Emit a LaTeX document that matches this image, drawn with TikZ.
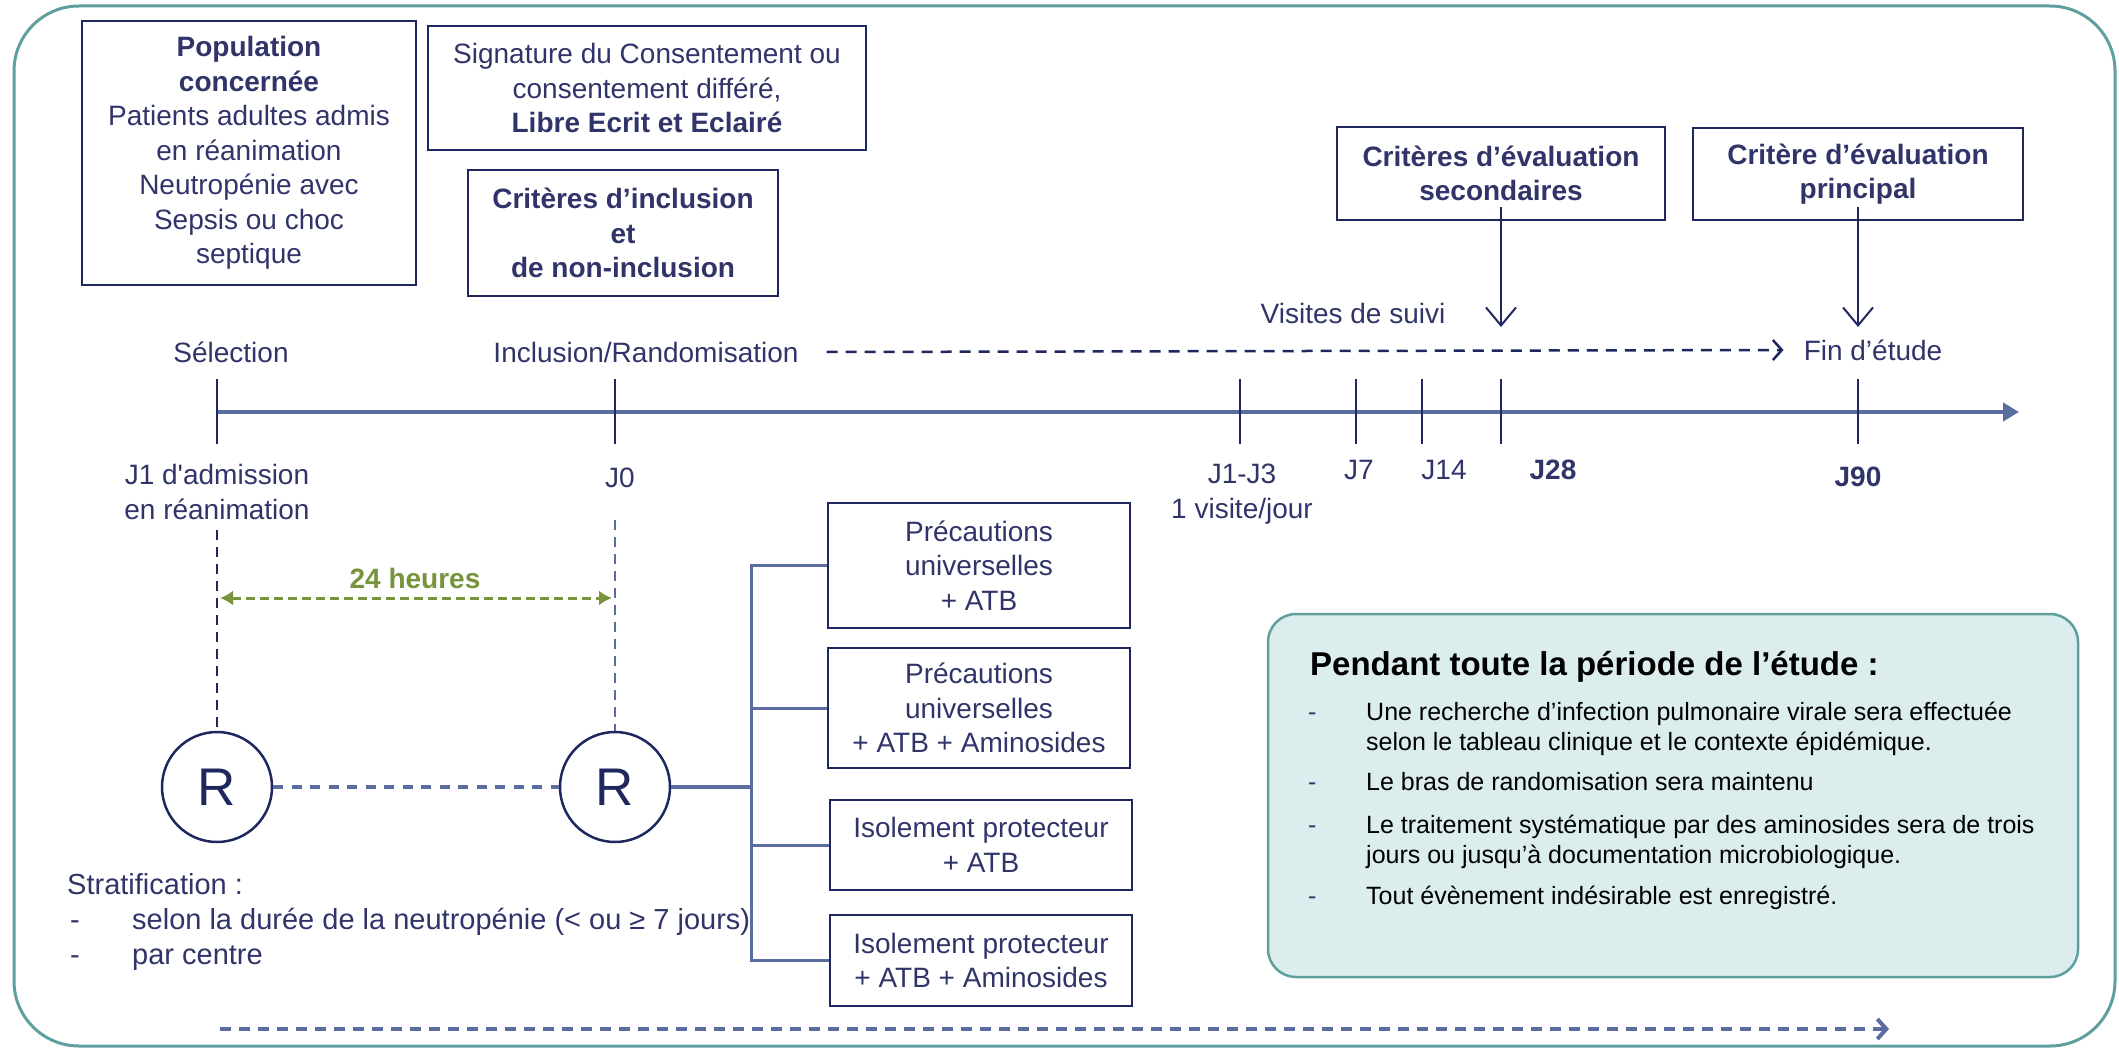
\documentclass[tikz,border=0pt]{standalone}
\usepackage{fontspec}
\setmainfont{Liberation Sans}
\usetikzlibrary{arrows.meta}
\definecolor{txt}{RGB}{48,52,105}
\definecolor{boxc}{RGB}{30,40,95}
\definecolor{tline}{RGB}{90,108,160}
\definecolor{tealc}{RGB}{95,160,158}
\definecolor{tealfill}{RGB}{220,237,238}
\definecolor{grn}{RGB}{119,147,60}
\begin{document}
\begin{tikzpicture}[x=1pt,y=-1pt,
  lab/.style={font=\fontsize{28}{34.5}\selectfont, text=txt, inner sep=0pt, align=center},
  boldlab/.style={lab, font=\bfseries\fontsize{28}{34.5}\selectfont},
  stratlab/.style={lab, anchor=base west, font=\fontsize{29}{34.5}\selectfont},
  box/.style={lab, draw=boxc, line width=2.5pt},
  tickline/.style={draw=boxc, line width=2pt},
  rcirc/.style={circle, draw=boxc, line width=2.5pt, minimum size=110pt, inner sep=0pt, text=boxc, font=\fontsize{53}{53}\selectfont},
  item/.style={anchor=base west, inner sep=0pt, text=black, font=\fontsize{25}{30}\selectfont},
  itembul/.style={anchor=base west, inner sep=0pt, text=txt, font=\fontsize{25}{30}\selectfont},
  openarrow/.style={-{Straight Barb[length=9pt,width=20pt]}}
]
\useasboundingbox (0,0) rectangle (2119,1051);
\draw[tealc, line width=3pt, rounded corners=65pt] (14,6) rectangle (2115,1046);

% top boxes
\node[box, minimum width=334pt, minimum height=264pt] (pop) at (249,153)
  {\textbf{Population}\\\textbf{concernée}\\Patients adultes admis\\en réanimation\\Neutropénie avec\\Sepsis ou choc\\septique};
\node[box, minimum width=438pt, minimum height=124pt] (sig) at (647,88)
  {Signature du Consentement ou\\consentement différé,\\\textbf{Libre Ecrit et Eclairé}};
\node[box, minimum width=310pt, minimum height=126pt] (incl) at (623,233)
  {\textbf{Critères d’inclusion}\\\textbf{et}\\\textbf{de non-inclusion}};
\node[box, minimum width=328pt, minimum height=93pt] (sec) at (1501,173.5)
  {\textbf{Critères d’évaluation}\\\textbf{secondaires}};
\node[box, minimum width=330pt, minimum height=92pt] (prin) at (1858,174)
  {\textbf{Critère d’évaluation}\\\textbf{principal}};

% timeline
\coordinate (t0) at (217,412);
\coordinate (tend) at (2019,412);
\draw[tline, line width=4pt, -{Triangle[length=16pt,width=18pt]}] (t0) -- (tend);
\foreach \x in {217,615,1240,1356,1422,1501,1858} {\draw[tickline] (\x,379) -- (\x,444);}

% labels above
\node[lab] (sel) at (231,352) {Sélection};
\node[lab] (incr) at (646,352) {Inclusion/Randomisation};
\node[lab] (vis) at (1353,313) {Visites de suivi};
\node[lab] (fin) at (1873,350) {Fin d’étude};
\draw[boxc, line width=2.5pt, dash pattern=on 11pt off 8pt, openarrow] ([xshift=28pt]incr.east) -- ([xshift=-20pt]fin.west);

\coordinate (a28) at (1501,327);
\coordinate (a90) at (1858,327);
\draw[boxc, line width=2pt, -{Straight Barb[length=18pt,width=30pt]}] ([yshift=14pt]sec.south) -- (a28);
\draw[boxc, line width=2pt, -{Straight Barb[length=18pt,width=30pt]}] ([yshift=14pt]prin.south) -- (a90);

% labels below
\node[lab] (adm) at (217,492) {J1 d\textquotesingle admission\\en réanimation};
\node[lab] (j0) at (620,478) {J0};
\node[lab] (j13) at (1242,494) {J1-J3\\1 visite/jour};
\node[lab] (j7) at (1359,470) {J7};
\node[lab] (j14) at (1444,470) {J14};
\node[boldlab] (j28) at (1553,470) {J28};
\node[boldlab] (j90) at (1858,477) {J90};

% randomisation circles
\node[rcirc] (r1) at (217,787) {R};
\node[rcirc] (r2) at (615,787) {R};
\coordinate (d1) at (217,530);
\coordinate (d2) at (615,520);
\draw[boxc, line width=2pt, dash pattern=on 10pt off 7pt] (d1) -- (r1);
\draw[tline, line width=2.5pt, dash pattern=on 10pt off 7pt] (d2) -- (r2);

% 24 heures
\coordinate (g1) at (220,598);
\coordinate (g2) at (612,598);
\draw[grn, line width=3pt, dash pattern=on 9pt off 5pt, {Latex[length=13pt,width=15pt]}-{Latex[length=13pt,width=15pt]}] (g1) -- (g2);
\node[boldlab, text=grn] (h24) at (415,578) {24 heures};

\draw[tline, line width=4pt, dash pattern=on 10pt off 8.5pt] (r1) -- (r2);

% arms
\coordinate (br) at (751,787);
\draw[tline, line width=4pt] (r2) -- (br);
\node[box, minimum width=302pt, minimum height=125pt] (b1) at (979,565.5) {Précautions\\universelles\\+ ATB};
\node[box, minimum width=302pt, minimum height=120pt] (b2) at (979,708) {Précautions\\universelles\\+ ATB + Aminosides};
\node[box, minimum width=302pt, minimum height=90pt] (b3) at (981,845) {Isolement protecteur\\+ ATB};
\node[box, minimum width=302pt, minimum height=91pt] (b4) at (981,960.5) {Isolement protecteur\\+ ATB + Aminosides};
\draw[tline, line width=3pt] (b1.west) -| (br);
\draw[tline, line width=3pt] (b4.west) -| (br);
\draw[tline, line width=3pt] (b2.west) -- (b2.west -| br);
\draw[tline, line width=3pt] (b3.west) -- (b3.west -| br);

% stratification
\node[stratlab] (strat) at (67,894) {Stratification :};
\node[stratlab] (bul1) at (70,929) {-};
\node[stratlab] (s1) at (132,929) {selon la durée de la neutropénie (< ou ≥ 7 jours)};
\node[stratlab] (bul2) at (70,964) {-};
\node[stratlab] (s2) at (132,964) {par centre};

% lower dashed arrow
\coordinate (l1) at (220,1029);
\coordinate (l2) at (1889,1029);
\draw[tline, line width=4pt, dash pattern=on 11pt off 8pt, openarrow] (l1) -- (l2);

% study period box
\node[draw=tealc, fill=tealfill, line width=2.5pt, rounded corners=28pt, minimum width=810pt, minimum height=363pt] (per) at (1673,795.5) {};
\node[anchor=base west, inner sep=0pt, text=black, font=\bfseries\fontsize{33}{40}\selectfont] (ptitle) at (1310,675) {Pendant toute la période de l’étude :};
\node[itembul] (i1b) at (1308,720) {-};
\node[item] (i1a) at (1366,720) {Une recherche d’infection pulmonaire virale sera effectuée};
\node[item] (i1c) at (1366,750) {selon le tableau clinique et le contexte épidémique.};
\node[itembul] (i2b) at (1308,790) {-};
\node[item] (i2a) at (1366,790) {Le bras de randomisation sera maintenu};
\node[itembul] (i3b) at (1308,833) {-};
\node[item] (i3a) at (1366,833) {Le traitement systématique par des aminosides sera de trois};
\node[item] (i3c) at (1366,863) {jours ou jusqu’à documentation microbiologique.};
\node[itembul] (i4b) at (1308,904) {-};
\node[item] (i4a) at (1366,904) {Tout évènement indésirable est enregistré.};
\end{tikzpicture}
\end{document}
